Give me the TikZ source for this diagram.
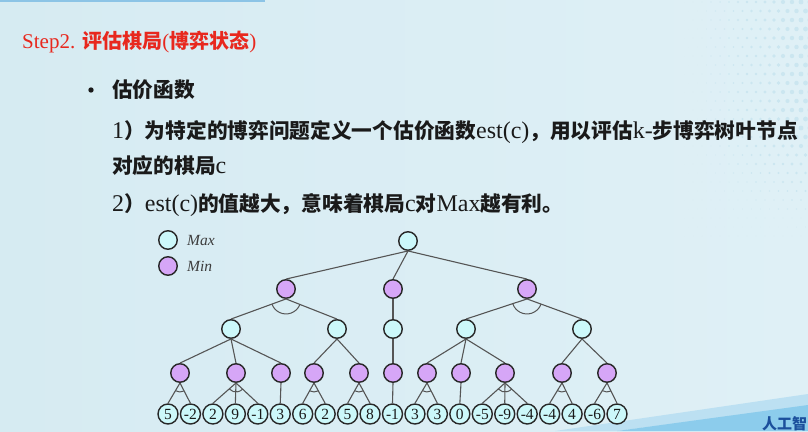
\documentclass[tikz,border=0pt]{standalone}
\usepackage{fontspec}
\setmainfont{Liberation Serif}
\newfontfamily\cjk{Noto Sans CJK SC}
\usetikzlibrary{calc}
\definecolor{bgL}{RGB}{214,235,242}
\definecolor{bgR}{RGB}{223,240,246}
\definecolor{dotc}{RGB}{203,230,240}
\definecolor{topline}{RGB}{140,196,230}
\definecolor{bandlight}{RGB}{188,224,242}
\definecolor{band}{RGB}{140,204,236}
\definecolor{bandtxt}{RGB}{27,79,156}
\definecolor{stepred}{RGB}{232,40,30}
\definecolor{textc}{RGB}{26,26,26}
\definecolor{legc}{RGB}{60,60,60}
\definecolor{maxfill}{RGB}{204,248,250}
\definecolor{minfill}{RGB}{214,166,247}
\definecolor{nodeb}{RGB}{40,40,40}
\definecolor{edgec}{RGB}{85,85,85}
\newcommand\zh[1]{{\cjk\bfseries\fontsize{20.7}{28}\selectfont #1}}
\newcommand\zhh[1]{{\cjk\bfseries\fontsize{20}{24}\selectfont #1}}
\newcommand\andarc[4]{\draw[arcline] let \p1=($(#2.north)-(#1.south)$), \p2=($(#3.north)-(#1.south)$), \n1={atan2(\y1,\x1)}, \n2={atan2(\y2,\x2)} in ($(#1.south)!#4!(#2.north)$) arc[start angle=\n1, end angle=\n2, radius=#4];}
\tikzset{
  maxn/.style={circle, draw=nodeb, fill=maxfill, line width=1.4pt, minimum size=18.5pt, inner sep=0pt},
  minn/.style={maxn, fill=minfill},
  leafn/.style={maxn, minimum size=20pt, font=\fontsize{15.5}{16}\selectfont, text=textc},
  conn/.style={draw=edgec, line width=1.1pt},
  arcline/.style={draw=edgec, line width=1pt},
  txt/.style={anchor=base west, inner sep=0pt, text=textc},
}
\begin{document}
\begin{tikzpicture}[x=1pt,y=-1pt]
\useasboundingbox (0,0) rectangle (808,431);
\begin{scope}
\clip (0,0) rectangle (808,431);
\shade[left color=bgL,right color=bgR] (0,0) rectangle (808,431);
\foreach \i in {0,...,14}{\foreach \j in {0,...,26}{
  \pgfmathsetmacro\dx{810-\i*9+mod(\j,2)*4.5}
  \pgfmathsetmacro\dy{\j*9+2}
  \pgfmathsetmacro\dr{2.6*(1-\i/14)*min(1,max(0,(240-\dy)/110))}
  \fill[dotc] (\dx,\dy) circle[radius=\dr pt];
}}
\fill[topline] (0,0) rectangle (265,2.2);
\fill[bandlight] (555,431) -- (808,394) -- (808,406) -- (617,431) -- cycle;
\fill[band] (617,431) -- (808,405) -- (808,431) -- cycle;
\end{scope}
\node[anchor=base west, inner sep=0pt, text=bandtxt, font=\cjk\bfseries\fontsize{15}{15}\selectfont] (brand) at (762,429) {人工智};

% texts
\node[txt, text=stepred, font=\fontsize{21}{24}\selectfont] (head) at (22,48) {Step2. \zhh{评估棋局}(\zhh{博弈状态})};
\node[circle, fill=textc, inner sep=0pt, minimum size=5.4pt] (bul) at (91,90) {};
\node[txt, font=\fontsize{24}{28}\selectfont] (h1) at (112,97) {\zh{估价函数}};
\node[txt, font=\fontsize{24}{28}\selectfont] (l1) at (112,138) {1\zh{）为特定的博弈问题定义一个估价函数}est(c)\zh{，用以评估}k-\zh{步博弈树叶节点}};
\node[txt, font=\fontsize{24}{28}\selectfont] (l2) at (112,173) {\zh{对应的棋局}c};
\node[txt, font=\fontsize{24}{28}\selectfont] (l3) at (112,211) {2\zh{）}est(c)\zh{的值越大，意味着棋局}c\zh{对}Max\zh{越有利。}};

% legend
\node[maxn] (legmax) at (168,240) {};
\node[minn] (legmin) at (168,266) {};
\node[txt, text=legc, font=\itshape\fontsize{15.5}{16}\selectfont] (legmaxt) at (187,245) {Max};
\node[txt, text=legc, font=\itshape\fontsize{15.5}{16}\selectfont] (legmint) at (187,271) {Min};

% tree nodes
\node[maxn] (R) at (408,241) {};
\node[minn] (A1) at (286,289) {};
\node[minn] (A2) at (393,289) {};
\node[minn] (A3) at (527,289) {};
\node[maxn] (B1) at (231,329) {};
\node[maxn] (B2) at (337,329) {};
\node[maxn] (B3) at (393,329) {};
\node[maxn] (B4) at (466,329) {};
\node[maxn] (B5) at (582,329) {};
\foreach \x [count=\k] in {180,236,281,314,359,393,427,461,505,562,607}
  \node[minn] (C\k) at (\x,373) {};
\foreach \v [count=\k] in {5,-2,2,9,-1,3,6,2,5,8,-1,3,3,0,-5,-9,-4,-4,4,-6,7}
  \node[leafn] (L\k) at ({168+22.45*(\k-1)},414) {\v};

% connectors
\foreach \p/\c in {R/A1,R/A2,R/A3,A1/B1,A1/B2,A2/B3,A3/B4,A3/B5,
  B1/C1,B1/C2,B1/C3,B2/C4,B2/C5,B3/C6,B4/C7,B4/C8,B4/C9,B5/C10,B5/C11,
  C1/L1,C1/L2,C2/L3,C2/L4,C2/L5,C3/L6,C4/L7,C4/L8,C5/L9,C5/L10,C6/L11,
  C7/L12,C7/L13,C8/L14,C9/L15,C9/L16,C9/L17,C10/L18,C10/L19,C11/L20,C11/L21}
  \draw[conn] (\p.south) -- (\c.north);

% AND arcs
\andarc{A1}{B1}{B2}{15pt}
\andarc{A3}{B4}{B5}{15pt}
\andarc{C1}{L1}{L2}{9pt}
\andarc{C2}{L3}{L5}{9pt}
\andarc{C4}{L7}{L8}{9pt}
\andarc{C5}{L9}{L10}{9pt}
\andarc{C7}{L12}{L13}{9pt}
\andarc{C9}{L15}{L17}{9pt}
\andarc{C10}{L18}{L19}{9pt}
\andarc{C11}{L20}{L21}{9pt}
\end{tikzpicture}
\end{document}
